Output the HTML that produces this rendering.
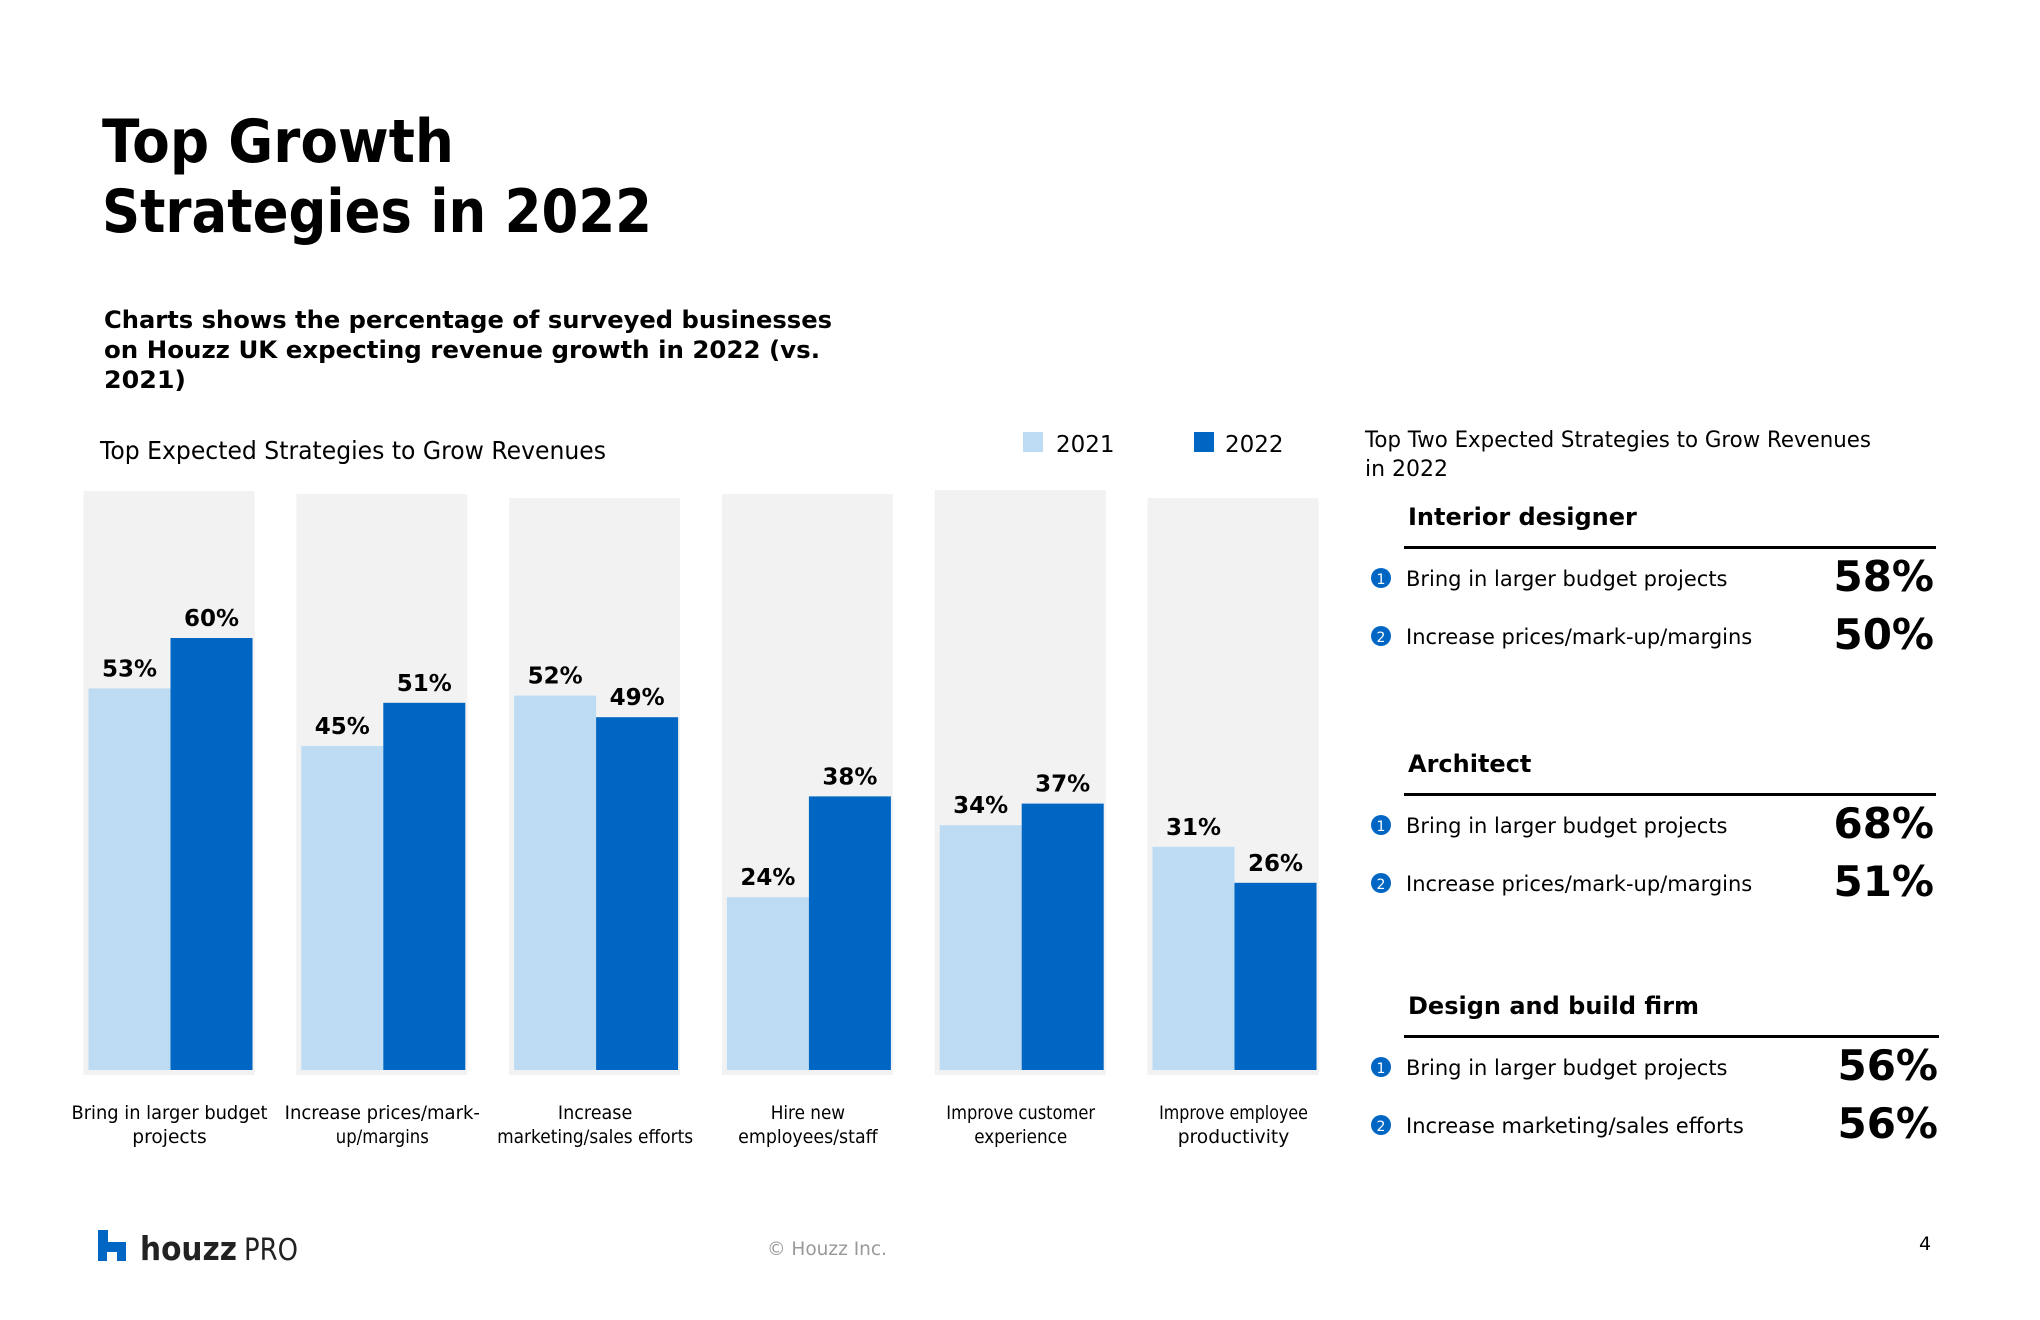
<!DOCTYPE html>
<html><head><meta charset="utf-8"><style>
html,body{margin:0;padding:0;background:#fff;}
svg{display:block;}
text{font-family:"DejaVu Sans","Liberation Sans",sans-serif;}
</style></head><body>
<svg id="chart" width="2040" height="1320" viewBox="0 0 2040 1320" xmlns="http://www.w3.org/2000/svg">
<text x="102" y="162" font-size="60" font-weight="bold" textLength="352" lengthAdjust="spacingAndGlyphs">Top Growth</text>
<text x="102" y="232" font-size="60" font-weight="bold" textLength="550" lengthAdjust="spacingAndGlyphs">Strategies in 2022</text>
<g font-size="24" font-weight="bold">
<text x="104" y="328" textLength="728" lengthAdjust="spacingAndGlyphs">Charts shows the percentage of surveyed businesses</text>
<text x="104" y="358" textLength="716" lengthAdjust="spacingAndGlyphs">on Houzz UK expecting revenue growth in 2022 (vs.</text>
<text x="104" y="388" textLength="82" lengthAdjust="spacingAndGlyphs">2021)</text>
</g>
<text x="100" y="459" font-size="25" textLength="506" lengthAdjust="spacingAndGlyphs">Top Expected Strategies to Grow Revenues</text>
<rect x="1023" y="432" width="20" height="20" fill="#bddbf3"/>
<text x="1056" y="452" font-size="23">2021</text>
<rect x="1194" y="432" width="20" height="20" fill="#0066c4"/>
<text x="1225" y="452" font-size="23">2022</text>
<g id="bars"></g>

<text font-size="22"><tspan x="1365" y="447" textLength="506" lengthAdjust="spacingAndGlyphs">Top Two Expected Strategies to Grow Revenues</tspan><tspan x="1365" y="476">in 2022</tspan></text>
<g id="panel"></g>

<g>
<path d="M98 1230 H108 V1242 L126 1242 V1261 H117 V1252 H107 V1261 H98 Z" fill="#0066c4"/>
<text x="140" y="1260" font-size="33" font-weight="bold" fill="#222" textLength="97" lengthAdjust="spacingAndGlyphs">houzz</text>
<text x="244" y="1260" font-size="30" fill="#222" textLength="54" lengthAdjust="spacingAndGlyphs">PRO</text>
</g>
<text x="767" y="1255" font-size="19" fill="#999" textLength="120" lengthAdjust="spacingAndGlyphs">© Houzz Inc.</text>
<text x="1919" y="1250" font-size="19" fill="#000">4</text>
</svg>
<script>
const categories = [["Bring in larger budget","projects"],["Increase prices/mark-","up/margins"],["Increase","marketing/sales efforts"],["Hire new","employees/staff"],["Improve customer","experience"],["Improve employee","productivity"]];
const values2021 = [53,45,52,24,34,31];
const values2022 = [60,51,49,38,37,26];
const panelTops = [491,494,498,494,490,498];

const sections = ["Interior designer","Architect","Design and build firm"];
const items1 = ["Bring in larger budget projects","Bring in larger budget projects","Bring in larger budget projects"];
const items2 = ["Increase prices/mark-up/margins","Increase prices/mark-up/margins","Increase marketing/sales efforts"];
const pct1 = [58,68,56];
const pct2 = [50,51,56];

const NS="http://www.w3.org/2000/svg";
const baseY=1070, perPct=7.2;
function y(v){return baseY - v*perPct;}
function gx(i){return 83.5 + i*212.8;}
function mk(tag,attrs,parent){const e=document.createElementNS(NS,tag);for(const k in attrs)e.setAttribute(k,attrs[k]);parent.appendChild(e);return e;}
const bars=document.getElementById('bars');
categories.forEach((c,i)=>{
  const x0=gx(i);
  const bg=mk('rect',{x:x0,y:panelTops[i],width:171,height:1075-panelTops[i],fill:'#f2f2f2'},bars);
  
  
  const b1=mk('rect',{x:x0+5,y:y(values2021[i]),width:82,height:values2021[i]*perPct,fill:'#bddbf3'},bars);
  
  
  const b2=mk('rect',{x:x0+87,y:y(values2022[i]),width:82,height:values2022[i]*perPct,fill:'#0066c4'},bars);
  
  
  const l1=mk('text',{x:x0+46,y:y(values2021[i])-12,'font-size':23,'font-weight':'bold','text-anchor':'middle'},bars);
  l1.textContent=values2021[i]+'%';
  
  
  const l2=mk('text',{x:x0+128,y:y(values2022[i])-12,'font-size':23,'font-weight':'bold','text-anchor':'middle'},bars);
  l2.textContent=values2022[i]+'%';
  
  
  c.forEach((line,j)=>{
    const t=mk('text',{x:x0+86,y:1119+j*24,'font-size':19,'text-anchor':'middle',textLength:Math.min(196,line.length*9.3),lengthAdjust:'spacingAndGlyphs'},bars);
    t.textContent=line;
    
    
  });
});
const panel=document.getElementById('panel');
const secY=[525,772,1014];
sections.forEach((s,i)=>{
  const sy=secY[i];
  const h=mk('text',{x:1408,y:sy,'font-size':24,'font-weight':'bold'},panel);
  h.textContent=s;
  
  
  const ln=mk('rect',{x:1404,y:sy+21,width:i==2?535:532,height:3,fill:'#000'},panel);
  
  
  [[items1[i],pct1[i],'1'],[items2[i],pct2[i],'2']].forEach((it,j)=>{
    const by=sy+61+j*58;
    const c=mk('circle',{cx:1381,cy:by-8,r:10,fill:'#0066c4'},panel);
    
    
    const n=mk('text',{x:1381,y:by-2,'font-size':14,fill:'#fff','text-anchor':'middle'},panel);
    n.textContent=it[2];
    
    
    const t=mk('text',{x:1406,y:by,'font-size':21},panel);
    t.textContent=it[0];
    
    
    const p=mk('text',{x:i==2?1938:1934,y:by+5,'font-size':42,'font-weight':'bold','text-anchor':'end'},panel);
    p.textContent=it[1]+'%';
    
    
  });
});
</script>
</body></html>
